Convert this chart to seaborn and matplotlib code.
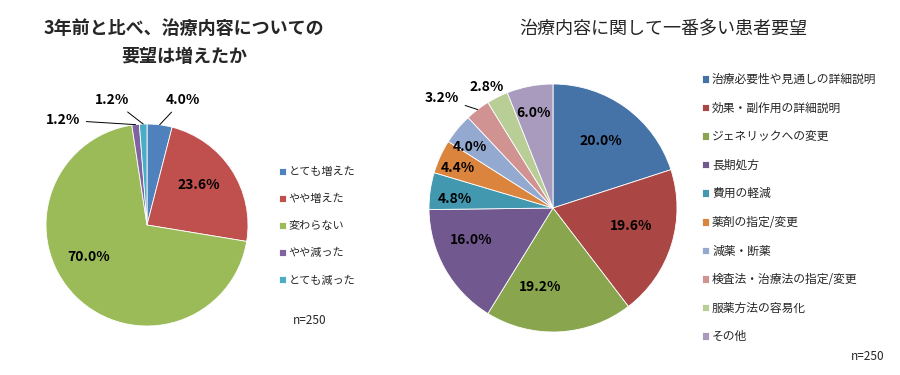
import matplotlib
matplotlib.use("Agg")
import matplotlib.pyplot as plt
import seaborn as sns
import numpy as np

# ---------------- data ----------------
left_title_lines = ["3年前と比べ、治療内容についての", "要望は増えたか"]
left_categories = ["とても増えた", "やや増えた", "変わらない", "やや減った", "とても減った"]
left_values = [4.0, 23.6, 70.0, 1.2, 1.2]

right_title = "治療内容に関して一番多い患者要望"
right_categories = ["治療必要性や見通しの詳細説明", "効果・副作用の詳細説明", "ジェネリックへの変更",
                    "長期処方", "費用の軽減", "薬剤の指定/変更", "減薬・断薬",
                    "検査法・治療法の指定/変更", "服薬方法の容易化", "その他"]
right_values = [20.0, 19.6, 19.2, 16.0, 4.8, 4.4, 4.0, 3.2, 2.8, 6.0]
n_text = "n=250"

# ---------------- style ----------------
left_colors = ["#4F81BD", "#C0504D", "#9BBB59", "#8064A2", "#4BACC6"]
right_colors = ["#4572A7", "#AA4643", "#89A54E", "#71588F", "#4198AF",
                "#DB843D", "#93A9CF", "#D19392", "#B9CD96", "#A99BBD"]

# label layout: (radius fraction, angle offset from slice middle in deg, leader line)
left_layout = [(1.29, -8.9, True), (0.65, 4.5, False), (0.66, -15.7, False),
               (1.33, 32.2, True), (1.285, 13.4, True)]
right_layout = [(0.66, 0.4, False), (0.646, 4.3, False), (0.646, -12.2, False),
                (0.71, -8.2, False), (0.794, 2.7, False), (0.83, 1.7, False),
                (0.83, 3.3, False), (1.26, 7.8, True), (1.11, 2.0, False),
                (0.78, 1.1, False)]

sns.set_theme(style="white")
plt.rcParams['font.family'] = ['Noto Sans CJK JP', 'DejaVu Sans']

W, H = 900, 375
fig = plt.figure(figsize=(9, 3.75), dpi=100)
fig.patch.set_facecolor("white")
ax = fig.add_axes([0, 0, 1, 1])


def py(y):
    return H - y


def draw_pie(values, colors, center, R, layout):
    wedges, _ = ax.pie(values, colors=sns.color_palette(colors), startangle=90,
                       counterclock=False, center=center, radius=R,
                       wedgeprops=dict(edgecolor="white", linewidth=0.6))
    for w, v, (rf, da, leader) in zip(wedges, values, layout):
        mid = np.deg2rad((w.theta1 + w.theta2) / 2)
        ang = mid + np.deg2rad(da)
        pos = (center[0] + rf * R * np.cos(ang), center[1] + rf * R * np.sin(ang))
        lab = f"{v:.1f}%"
        if leader:
            edge = (center[0] + R * np.cos(mid), center[1] + R * np.sin(mid))
            ax.annotate(lab, xy=edge, xytext=pos, ha="center", va="center",
                        fontsize=10, fontweight="bold", color="black",
                        arrowprops=dict(arrowstyle="-", color="black", lw=0.7,
                                        shrinkA=2, shrinkB=0))
        else:
            ax.text(pos[0], pos[1], lab, ha="center", va="center",
                    fontsize=10, fontweight="bold", color="black")
    return wedges


lw = draw_pie(left_values, left_colors, (147, py(225)), 101, left_layout)
rw = draw_pie(right_values, right_colors, (553, py(208)), 124, right_layout)

ax.set_xlim(0, W)
ax.set_ylim(0, H)
ax.set_aspect("equal")
ax.axis("off")

# titles
fig.text(184 / W, py(28) / H, left_title_lines[0], ha="center", va="center",
         fontsize=13, fontweight="bold")
fig.text(184 / W, py(57) / H, left_title_lines[1], ha="center", va="center",
         fontsize=13, fontweight="bold")
fig.text(663 / W, py(29) / H, right_title, ha="center", va="center", fontsize=13)

# legends
leg1 = ax.legend(lw, left_categories, loc="upper left",
                 bbox_to_anchor=(279 / W, py(167) / H), bbox_transform=fig.transFigure,
                 frameon=False, fontsize=8, handlelength=0.6, handleheight=0.6,
                 handletextpad=0.25, labelspacing=1.52, borderpad=0, borderaxespad=0)
ax.add_artist(leg1)
leg2 = ax.legend(rw, right_categories, loc="upper left",
                 bbox_to_anchor=(702 / W, py(73) / H), bbox_transform=fig.transFigure,
                 frameon=False, fontsize=8.5, handlelength=0.6, handleheight=0.6,
                 handletextpad=0.25, labelspacing=1.32, borderpad=0, borderaxespad=0)

fig.text(310 / W, py(320) / H, n_text, ha="center", va="center", fontsize=8.5)
fig.text(868 / W, py(357) / H, n_text, ha="center", va="center", fontsize=8.5)

fig.savefig("out.png", dpi=100)
